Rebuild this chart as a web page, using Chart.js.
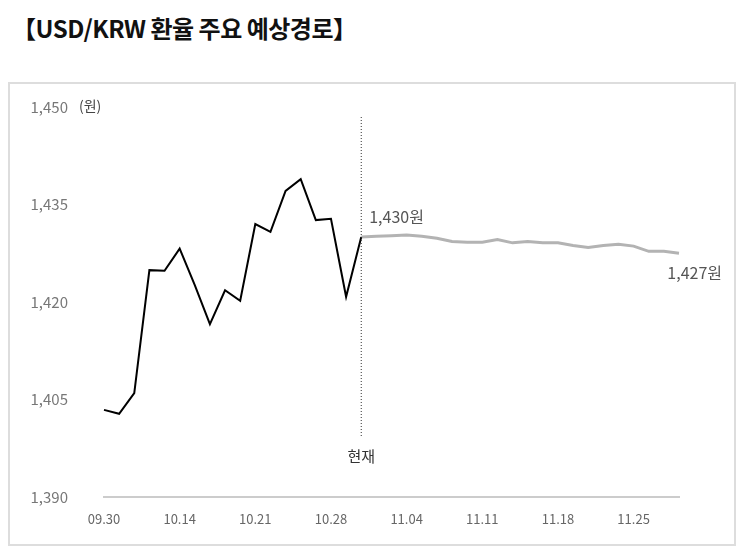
<!DOCTYPE html>
<html><head><meta charset="utf-8">
<script src="https://cdn.jsdelivr.net/npm/chart.js@4"></script>
<style>
body{margin:0;width:741px;height:553px;background:#fff;font-family:"Noto Sans CJK KR",sans-serif;position:relative;overflow:hidden}
#t{position:absolute;left:12px;top:10px;font-size:24px;font-weight:bold;color:#111;letter-spacing:-0.5px}
#box{position:absolute;left:8px;top:82px;width:724px;height:460px;border:2px solid #ddd}
canvas{position:absolute;left:0;top:0}
</style></head><body>
<div id="t">【USD/KRW 환율 주요 예상경로】</div>
<div id="box"></div>
<canvas id="c" width="741" height="553"></canvas>
<script>
const tickLabels=["09.30","10.14","10.21","10.28","11.04","11.11","11.18","11.25"];
const actual=[1403.4,1402.8,1406,1424.9,1424.8,1428.2,1422.6,1416.6,1421.8,1420.2,1432,1430.8,1437.1,1438.9,1432.6,1432.8,1420.8,1430];
const forecast=[1430,1430.1,1430.2,1430.3,1430.1,1429.8,1429.3,1429.2,1429.2,1429.6,1429.1,1429.3,1429.1,1429.1,1428.7,1428.4,1428.7,1428.9,1428.6,1427.8,1427.8,1427.5];
const n=actual.length+forecast.length-1;
const labels=[];for(let i=0;i<n;i++)labels.push(i%5===0?tickLabels[i/5]:"");
const a=actual.concat(Array(n-actual.length).fill(null));
const f=Array(actual.length-1).fill(null).concat(forecast);
const nowIdx=actual.length-1;
const F='"Noto Sans CJK KR", sans-serif';
const ann={id:'ann',afterDatasetsDraw(ch){
 const c=ch.ctx,x=ch.scales.x,y=ch.scales.y;
 const px=x.getPixelForValue(nowIdx);
 c.save();c.strokeStyle='#333';c.lineWidth=1;c.setLineDash([1,2]);
 c.beginPath();c.moveTo(px,117);c.lineTo(px,437);c.stroke();c.setLineDash([]);
 c.fillStyle='#333';c.font='15px '+F;c.textAlign='center';c.textBaseline='middle';
 c.fillText('현재',px,456);
 c.fillStyle='#555';c.font='16px '+F;c.textAlign='left';
 c.fillText('1,430원',px+8,y.getPixelForValue(1430)-20);
 c.textAlign='right';
 c.fillText('1,427원',722,y.getPixelForValue(1427)+16);
 c.font='14px '+F;c.textAlign='left';c.fillStyle='#444';
 c.fillText('(원)',79,106);
 c.restore();}};
new Chart(document.getElementById('c'),{type:'line',
data:{labels,datasets:[
 {data:a,borderColor:'#000',borderWidth:2,pointRadius:0,tension:0},
 {data:f,borderColor:'#b3b3b3',borderWidth:3,pointRadius:0,tension:0}]},
options:{responsive:false,animation:false,
 layout:{padding:{top:107,bottom:26,right:62,left:0}},
 plugins:{legend:{display:false},tooltip:{enabled:false}},
 scales:{
  x:{grid:{display:false},border:{color:'#ccc',width:2},
     afterFit(s){s.height=30},
     ticks:{autoSkip:false,maxRotation:0,padding:6,color:'#666',font:{size:13,family:F}}},
  y:{min:1390,max:1450,grid:{display:false},border:{display:false},
     afterFit(s){s.width=104},
     ticks:{stepSize:15,padding:28,color:'#777',font:{size:15,family:F},callback:v=>v.toLocaleString('en-US')}}}},
plugins:[ann]});
</script></body></html>
